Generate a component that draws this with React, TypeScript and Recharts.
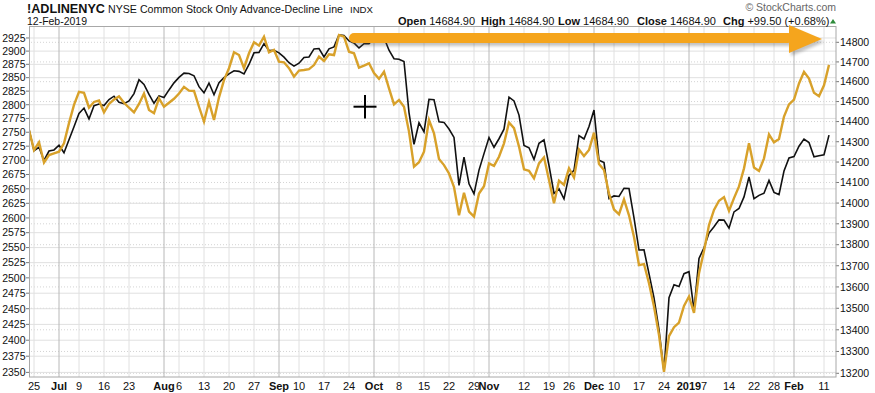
import React from 'react';
import { LineChart, Line, XAxis, YAxis, ReferenceLine } from 'recharts';

// S&P 500 overlay (left axis), one value per trading day 22-Jun-2018 .. 12-Feb-2019
const spx = [
  2754.88, 2717.07, 2723.06, 2699.63, 2716.31, 2718.37, 2726.71, 2713.22, 2736.61, 2759.82,
  2784.17, 2793.84, 2774.02, 2798.29, 2801.31, 2798.43, 2809.55, 2815.62, 2804.49, 2801.83,
  2806.98, 2820.40, 2846.07, 2837.44, 2818.82, 2802.60, 2816.29, 2813.36, 2827.22, 2840.35,
  2850.40, 2858.45, 2857.70, 2853.58, 2833.28, 2821.93, 2839.96, 2818.37, 2840.69, 2850.13,
  2857.05, 2862.96, 2861.82, 2856.98, 2874.69, 2896.74, 2897.52, 2914.04, 2901.13, 2901.52,
  2896.72, 2888.60, 2878.05, 2871.68, 2877.13, 2887.89, 2888.92, 2904.18, 2904.98, 2888.80,
  2904.31, 2907.95, 2930.75, 2929.67, 2919.37, 2915.56, 2905.97, 2914.00, 2913.98, 2924.59,
  2923.43, 2925.51, 2901.61, 2885.57, 2884.43, 2880.34, 2785.68, 2728.37, 2767.13, 2750.79,
  2809.92, 2809.21, 2768.78, 2767.78, 2755.88, 2740.69, 2656.10, 2705.57, 2658.69, 2641.25,
  2682.63, 2711.74, 2740.37, 2723.06, 2738.31, 2755.45, 2813.89, 2806.83, 2781.01, 2726.22,
  2722.18, 2701.58, 2730.20, 2736.27, 2690.73, 2641.89, 2649.93, 2632.56, 2673.45, 2682.17,
  2743.79, 2737.80, 2760.17, 2790.37, 2700.06, 2695.95, 2633.08, 2637.72, 2636.78, 2651.07,
  2650.54, 2599.95, 2545.94, 2546.16, 2506.96, 2467.42, 2416.62, 2351.10, 2467.70, 2488.83,
  2485.74, 2506.85, 2510.03, 2447.89, 2531.94, 2549.69, 2574.41, 2584.96, 2596.64, 2596.26,
  2582.61, 2610.30, 2616.10, 2635.96, 2670.71, 2632.90, 2638.70, 2642.33, 2664.76, 2643.85,
  2640.00, 2681.05, 2704.10, 2706.53, 2724.87, 2737.70, 2731.61, 2706.05, 2707.88, 2709.80,
  2744.73,
];

// NYSE Common Stock Only Advance-Decline Line (right axis)
const adLine = [
  14358, 14259, 14297, 14197, 14234, 14243, 14251, 14292, 14392, 14483,
  14549, 14544, 14469, 14498, 14505, 14446, 14488, 14510, 14526, 14494,
  14469, 14446, 14488, 14540, 14458, 14442, 14516, 14474, 14494, 14514,
  14540, 14574, 14555, 14553, 14474, 14400, 14498, 14408, 14521, 14608,
  14668, 14749, 14735, 14668, 14744, 14800, 14783, 14829, 14749, 14761,
  14701, 14698, 14668, 14625, 14656, 14659, 14663, 14684, 14727, 14705,
  14739, 14735, 14837, 14829, 14752, 14744, 14671, 14681, 14693, 14643,
  14614, 14650, 14566, 14486, 14508, 14474, 14350, 14177, 14199, 14251,
  14408, 14341, 14215, 14185, 14144, 14078, 13941, 14050, 13959, 13935,
  14046, 14082, 14193, 14181, 14226, 14292, 14395, 14367, 14276, 14164,
  14157, 14120, 14193, 14223, 14112, 13999, 14109, 14088, 14169, 14125,
  14262, 14229, 14259, 14345, 14190, 14161, 14046, 13969, 13946, 14018,
  13941, 13837, 13703, 13708, 13617, 13508, 13376, 13207, 13371, 13412,
  13433, 13511, 13555, 13479, 13664, 13770, 13894, 13967, 14011, 14029,
  13962, 14024, 14081, 14169, 14292, 14173, 14156, 14218, 14336, 14297,
  14313, 14425, 14486, 14510, 14591, 14650, 14616, 14544, 14527, 14582,
  14684.90,
];

// trading-day index of each x-axis label
const xTickIdx = [1, 6, 10, 15, 20, 27, 30, 35, 40, 45, 50, 54, 59, 64, 69, 74, 79, 84, 89, 92, 99, 104, 108, 113, 117, 122, 127, 132, 135, 140, 145, 149, 153, 159];
const xTickLabels = ['25', 'Jul', '9', '16', '23', 'Aug', '6', '13', '20', '27', 'Sep', '10', '17', '24', 'Oct', '8', '15', '22', '29', 'Nov', '12', '19', '26', 'Dec', '10', '17', '24', '2019', '7', '14', '22', '28', 'Feb', '11'];
const monthLabels = ['Jul', 'Aug', 'Sep', 'Oct', 'Nov', 'Dec', '2019', 'Feb'];

const leftTicks = [2350, 2375, 2400, 2425, 2450, 2475, 2500, 2525, 2550, 2575, 2600, 2625, 2650, 2675, 2700, 2725, 2750, 2775, 2800, 2825, 2850, 2875, 2900, 2925];
const rightTicks = [13200, 13300, 13400, 13500, 13600, 13700, 13800, 13900, 14000, 14100, 14200, 14300, 14400, 14500, 14600, 14700, 14800];

const data = spx.map((v, i) => ({ i, spx: v, ad: adLine[i] }));

const FONT = '"Liberation Sans", Arial, Helvetica, sans-serif';

const XTick = (props: any) => {
  const { x, payload } = props;
  const k = xTickIdx.indexOf(payload.value);
  const label = xTickLabels[k];
  const bold = monthLabels.includes(label);
  return (
    <text x={x} y={390} textAnchor="middle" fontSize={11} fontFamily={FONT} fontWeight={bold ? 'bold' : 'normal'} fill="#111">
      {label}
    </text>
  );
};

const LeftTick = (props: any) => {
  const { y, payload } = props;
  return (
    <text x={25.5} y={y + 3.8} textAnchor="end" fontSize={10.5} fontFamily={FONT} fill="#111">
      {payload.value}
    </text>
  );
};

const RightTick = (props: any) => {
  const { y, payload } = props;
  return (
    <text x={840} y={y + 3.8} textAnchor="start" fontSize={10.5} fontFamily={FONT} fill="#111">
      {payload.value}
    </text>
  );
};

export default function App() {
  return (
    <div style={{ position: 'absolute', left: 0, top: 0, width: 875, height: 393, background: '#fff' }}>
      <LineChart width={875} height={393} data={data} margin={{ top: 27, right: 0, bottom: 0, left: 0 }}>
        <XAxis
          xAxisId="x"
          dataKey="i"
          type="number"
          domain={[0, 161.4]}
          allowDataOverflow
          ticks={xTickIdx}
          interval={0}
          height={16}
          tick={<XTick />}
          tickLine={false}
          axisLine={false}
        />
        <YAxis
          yAxisId="left"
          orientation="left"
          width={29}
          scale="log"
          domain={[2342.9, 2946.1]}
          allowDataOverflow
          ticks={leftTicks}
          interval={0}
          tickSize={3}
          tickLine={{ stroke: '#777' }}
          axisLine={false}
          tick={<LeftTick />}
        />
        <YAxis
          yAxisId="right"
          orientation="right"
          width={39}
          scale="log"
          domain={[13183.1, 14878.5]}
          allowDataOverflow
          ticks={rightTicks}
          interval={0}
          tickSize={3}
          tickLine={{ stroke: '#777' }}
          axisLine={false}
          tick={<RightTick />}
        />
        {rightTicks.map((v) => (
          <ReferenceLine key={'r' + v} xAxisId="x" yAxisId="right" y={v} stroke="#d4d4d4" strokeDasharray="1 2" />
        ))}
        {leftTicks.map((v) => (
          <ReferenceLine key={'l' + v} xAxisId="x" yAxisId="left" y={v} stroke="#e0e0e0" />
        ))}
        {xTickIdx.map((v, k) => (
          <ReferenceLine
            key={'x' + v}
            xAxisId="x"
            yAxisId="left"
            x={v}
            stroke={monthLabels.includes(xTickLabels[k]) ? '#b8b8b8' : '#e0e0e0'}
          />
        ))}
        <Line xAxisId="x" yAxisId="left" type="linear" dataKey="spx" stroke="#111" strokeWidth={1.6} dot={false} isAnimationActive={false} />
        <Line xAxisId="x" yAxisId="right" type="linear" dataKey="ad" stroke="#D8A12A" strokeWidth={2.4} dot={false} isAnimationActive={false} />
      </LineChart>
      <svg width={875} height={393} style={{ position: 'absolute', left: 0, top: 0, pointerEvents: 'none' }}>
        <defs>
          <filter id="shadow" x="-10%" y="-50%" width="120%" height="200%">
            <feGaussianBlur stdDeviation="1.5" />
          </filter>
        </defs>
        <rect x={29.5} y={26.5} width={806.5} height={350.5} fill="none" stroke="#a8a8a8" strokeWidth={1} />
        <text x={27} y={13} fontFamily={FONT} fontSize={13} fontWeight="bold" fill="#111" textLength={78} lengthAdjust="spacingAndGlyphs">!ADLINENYC</text>
        <text x={108} y={13} fontFamily={FONT} fontSize={11} fill="#111" textLength={235} lengthAdjust="spacingAndGlyphs">NYSE Common Stock Only Advance-Decline Line</text>
        <text x={350} y={13} fontFamily={FONT} fontSize={9.5} fill="#111" textLength={23} lengthAdjust="spacingAndGlyphs">INDX</text>
        <text x={27} y={24.5} fontFamily={FONT} fontSize={10.5} fill="#111" textLength={60} lengthAdjust="spacingAndGlyphs">12-Feb-2019</text>
        <text x={836} y={10.5} fontFamily={FONT} fontSize={10.5} fill="#666" textAnchor="end">© StockCharts.com</text>
        <text y={24.5} fontFamily={FONT} fontSize={11} fill="#111">
          <tspan x={398} fontWeight="bold">Open</tspan>
          <tspan> 14684.90 </tspan>
          <tspan x={481} fontWeight="bold">High</tspan>
          <tspan> 14684.90 </tspan>
          <tspan x={558} fontWeight="bold">Low</tspan>
          <tspan> 14684.90 </tspan>
          <tspan x={637} fontWeight="bold">Close</tspan>
          <tspan> 14684.90 </tspan>
          <tspan x={723} fontWeight="bold">Chg</tspan>
          <tspan> +99.50 (+0.68%)</tspan>
        </text>
        <polygon points="830,23.5 836,23.5 833,19" fill="#2e8b3a" />
        <g filter="url(#shadow)" opacity={0.35} transform="translate(2,3)">
          <rect x={349} y={33} width={444} height={10} rx={5} fill="#555" />
          <polygon points="789,25 822,39 789,53" fill="#555" />
        </g>
        <rect x={349} y={33} width={444} height={10} rx={5} fill="#F5A51D" />
        <polygon points="789,25 822,39 789,53" fill="#F5A51D" />
        <line x1={353.5} y1={106.7} x2={376.5} y2={106.7} stroke="#000" strokeWidth={2} />
        <line x1={365} y1={95} x2={365} y2={118.4} stroke="#000" strokeWidth={2} />
      </svg>
    </div>
  );
}
